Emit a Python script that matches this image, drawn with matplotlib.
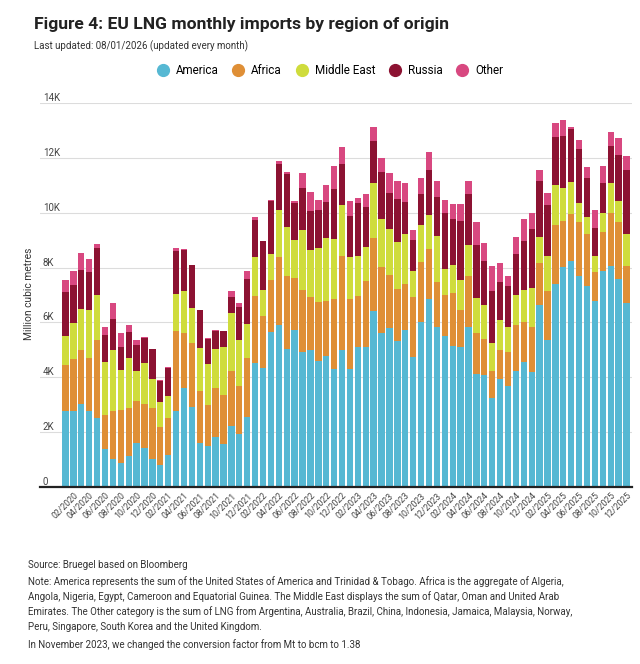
import matplotlib
matplotlib.use("Agg")
import matplotlib.pyplot as plt
from matplotlib.lines import Line2D
import numpy as np

months = [f"{m:02d}/{y}" for y in range(2020, 2026) for m in range(1, 13)]

# Cumulative tops (thousand mcm), converted to segments below
america_top = [2.77,2.77,3.01,2.77,2.50,1.40,1.01,0.89,1.13,1.59,1.43,1.01,
               0.79,1.16,2.77,3.62,2.93,1.59,1.50,1.83,1.55,2.23,1.95,2.56,
               4.51,4.35,5.65,5.89,5.02,5.71,4.94,5.00,4.60,4.79,4.30,4.98,
               4.30,5.10,5.10,6.40,5.61,5.79,5.34,5.71,4.73,6.00,6.87,5.85,
               5.51,5.15,5.12,5.83,4.11,4.09,3.23,3.94,3.68,4.24,4.54,4.21,
               6.65,5.37,7.41,8.01,8.23,7.68,7.32,6.77,7.89,8.05,7.59,6.71]
africa_top = [4.45,4.67,4.98,4.70,5.37,2.62,2.77,2.80,2.89,3.13,3.01,2.89,
              2.20,2.50,5.67,5.61,5.24,3.50,2.99,3.62,3.35,4.23,3.68,4.70,
              6.95,6.22,7.56,8.39,7.71,7.62,7.17,6.93,6.74,6.79,6.87,8.41,
              6.85,6.95,7.50,9.09,8.01,7.74,7.23,7.40,6.91,8.20,8.68,7.46,
              6.99,7.07,6.46,7.68,5.63,5.40,4.24,4.98,4.94,5.91,6.00,5.85,
              8.17,7.13,9.57,9.70,9.96,9.66,9.21,7.83,9.29,10.00,9.67,8.05]
mideast_top = [5.49,5.98,6.49,6.45,7.01,4.57,4.98,4.27,4.72,4.24,4.51,3.93,
               3.11,3.32,7.04,7.16,6.52,5.06,4.48,5.02,5.12,6.34,5.37,5.94,
               8.38,7.20,8.48,10.11,9.48,8.99,9.37,8.63,8.73,9.09,9.05,10.28,
               8.38,8.41,8.76,11.07,9.78,9.39,8.94,9.24,7.87,9.55,9.90,9.15,
               7.95,8.11,7.56,8.84,6.89,6.65,5.24,6.10,5.82,7.01,7.20,7.26,
               9.12,8.41,11.00,10.91,11.13,10.37,9.84,8.41,10.00,11.07,10.43,9.24]
russia_top = [7.11,7.38,7.90,7.83,8.70,5.55,6.12,5.09,5.65,5.18,5.45,5.02,
              3.88,4.35,8.62,8.63,8.09,6.44,5.40,5.70,5.67,6.93,6.55,7.60,
              9.72,8.96,10.43,11.77,11.40,10.37,10.91,10.06,10.10,10.40,10.88,11.77,
              9.88,10.37,10.22,12.62,11.50,10.71,10.51,10.40,9.02,10.67,11.55,10.59,
              10.00,9.76,9.70,10.67,8.84,8.23,7.16,7.46,7.34,8.48,8.96,9.41,
              11.16,10.27,12.77,12.80,13.05,12.32,11.26,9.45,11.07,12.44,12.10,11.55]
other_top = [7.54,7.89,8.54,8.32,8.87,5.85,6.71,5.61,5.91,5.37,5.47,5.04,
             3.90,4.37,8.72,8.66,8.11,6.46,5.42,5.72,5.69,7.13,6.71,7.87,
             9.85,8.98,10.45,11.87,11.50,10.43,11.43,10.76,10.46,11.01,11.71,12.38,
             10.43,10.52,10.67,13.11,11.99,11.43,11.16,11.07,9.37,11.26,12.22,11.16,
             10.45,10.33,10.33,11.16,9.66,8.88,8.07,8.17,7.68,9.11,9.76,10.00,
             11.55,10.73,13.26,13.38,13.13,12.65,11.65,10.09,11.71,12.96,12.71,12.07]

series_names = ["America", "Africa", "Middle East", "Russia", "Other"]
colors = ["#56b8d3", "#df8f36", "#cfdc3c", "#8c1232", "#d84880"]

tops = [np.array(t) * 1000 for t in (america_top, africa_top, mideast_top, russia_top, other_top)]
segments = [tops[0]] + [tops[i] - tops[i - 1] for i in range(1, 5)]

ytick_vals = [0, 2000, 4000, 6000, 8000, 10000, 12000, 14000]
ytick_labels = ["0", "2K", "4K", "6K", "8K", "10K", "12K", "14K"]

narrow = ["Liberation Sans Narrow", "Roboto", "DejaVu Sans"]
plt.rcParams["font.family"] = narrow

W, H = 640, 664
fig = plt.figure(figsize=(W / 100, H / 100), dpi=100)
fig.patch.set_facecolor("white")

ax_left, ax_right = 40, 632
ax_top, ax_bot = 103, 487
ax = fig.add_axes([ax_left / W, 1 - ax_bot / H, (ax_right - ax_left) / W, (ax_bot - ax_top) / H])

x = np.arange(len(months))
bottom = np.zeros(len(months))
for seg, c, name in zip(segments, colors, series_names):
    ax.bar(x, seg, bottom=bottom, width=0.8, color=c, label=name, zorder=3, linewidth=0)
    bottom = bottom + seg

pitch = (626.5 - 65.5) / 71
ax.set_xlim(-(65.5 - ax_left) / pitch, 71 + (ax_right - 626.5) / pitch)
ax.set_ylim(0, 14000)

ax.set_yticks(ytick_vals)
ax.set_yticklabels(ytick_labels)
ax.tick_params(axis="y", length=0, pad=-2, labelsize=7, labelcolor="#444444")
for lab in ax.get_yticklabels():
    lab.set_horizontalalignment("left")
    lab.set_verticalalignment("bottom")
ax.yaxis.grid(True, color="#dcdcdc", linewidth=0.8, zorder=0)
ax.set_axisbelow(True)

ax.set_xticks(x[1::2])
ax.set_xticklabels(months[1::2], rotation=45, ha="right", rotation_mode="anchor",
                   fontsize=6.3, color="#444444")
ax.tick_params(axis="x", length=0, pad=3)

for s in ["top", "right", "left"]:
    ax.spines[s].set_visible(False)
ax.spines["bottom"].set_color("#222222")
ax.spines["bottom"].set_linewidth(1.6)
ax.spines["bottom"].set_zorder(5)

fig.text(29 / W, 1 - 294 / H, "Million cubic metres", rotation=90, ha="center", va="center",
         fontsize=7.4, color="#333333")

fig.text(34 / W, 1 - 25 / H, "Figure 4: EU LNG monthly imports by region of origin",
         fontsize=12.6, fontweight="bold", color="#222222", va="center", ha="left")
fig.text(34 / W, 1 - 46 / H, "Last updated: 08/01/2026 (updated every month)",
         fontsize=7, color="#333333", va="center", ha="left")

handles = [Line2D([0], [0], marker="o", linestyle="", markersize=8.5, markerfacecolor=c,
                  markeredgecolor=c) for c in colors]
fig.legend(handles, series_names, loc="center", bbox_to_anchor=(330 / W, 1 - 71 / H),
           ncol=5, frameon=False, fontsize=8.4, handletextpad=0.6, columnspacing=1.2,
           handlelength=1.0)

footer = [
    "Source: Bruegel based on Bloomberg",
    "Note: America represents the sum of the United States of America and Trinidad & Tobago. Africa is the aggregate of Algeria,",
    "Angola, Nigeria, Egypt, Cameroon and Equatorial Guinea. The Middle East displays the sum of Qatar, Oman and United Arab",
    "Emirates. The Other category is the sum of LNG from Argentina, Australia, Brazil, China, Indonesia, Jamaica, Malaysia, Norway,",
    "Peru, Singapore, South Korea and the United Kingdom.",
    "In November 2023, we changed the conversion factor from Mt to bcm to 1.38",
]
ys = [565, 582, 597, 612, 627, 645]
for t, yy in zip(footer, ys):
    fig.text(28 / W, 1 - yy / H, t, fontsize=7, color="#333333", va="center", ha="left")

fig.savefig("out.png", dpi=100, facecolor="white")
